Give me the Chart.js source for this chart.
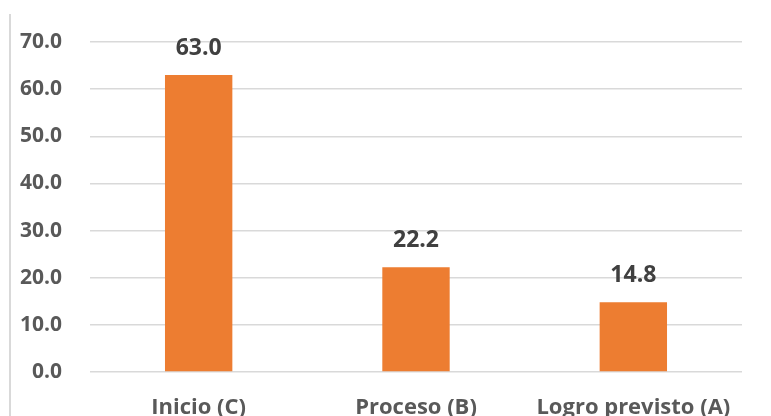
<!DOCTYPE html>
<html><head><meta charset="utf-8">
<script src="https://cdn.jsdelivr.net/npm/chart.js@4/dist/chart.umd.min.js"></script>
<style>
html,body{margin:0;padding:0;background:#fff;}
#wrap{position:relative;width:771px;height:416px;overflow:hidden;}
#vline{position:absolute;left:9px;top:14px;width:2px;height:402px;background:#d9d9d9;}
</style></head>
<body>
<div id="wrap"><div id="vline"></div><canvas id="c" width="771" height="416"></canvas></div>
<script>
const categories = ["Inicio (C)", "Proceso (B)", "Logro previsto (A)"];
const values = [63.0, 22.2, 14.8];
const yTicks = [0, 10, 20, 30, 40, 50, 60, 70];

const FONT = "'Open Sans', sans-serif";

const labelPlugin = {
  id: 'valueLabels',
  afterDatasetsDraw(chart) {
    const ctx = chart.ctx;
    const meta = chart.getDatasetMeta(0);
    ctx.save();
    ctx.font = "bold 23px " + FONT;
    ctx.fillStyle = "#404040";
    ctx.textAlign = "center";
    ctx.textBaseline = "middle";
    meta.data.forEach((bar, i) => {
      ctx.fillText(values[i].toFixed(1), bar.x, bar.y - 27);
    });
    ctx.restore();
  }
};

new Chart(document.getElementById('c'), {
  type: 'bar',
  data: {
    labels: categories,
    datasets: [{
      data: values,
      backgroundColor: '#ED7D31',
      categoryPercentage: 1.0,
      barPercentage: 0.31
    }]
  },
  options: {
    responsive: false,
    animation: false,
    layout: { padding: { top: 42, right: 29, left: 0, bottom: 0 } },
    plugins: { legend: { display: false }, tooltip: { enabled: false } },
    scales: {
      x: {
        grid: { display: false, drawTicks: false },
        border: { display: false },
        ticks: { color: '#595959', font: { family: FONT, size: 22, weight: 'bold' }, padding: 23 },
        afterFit(s) { s.height = 44; }
      },
      y: {
        min: 0, max: 70,
        afterBuildTicks(s) { s.ticks = yTicks.map(v => ({ value: v })); },
        grid: { color: '#d9d9d9', lineWidth: 1.5, drawTicks: false },
        border: { display: false },
        ticks: { color: '#595959', font: { family: FONT, size: 21, weight: 'bold' }, padding: 28,
                 callback: v => Number(v).toFixed(1) },
        afterFit(s) { s.width = 90; }
      }
    }
  },
  plugins: [labelPlugin]
});
</script>
</body></html>
